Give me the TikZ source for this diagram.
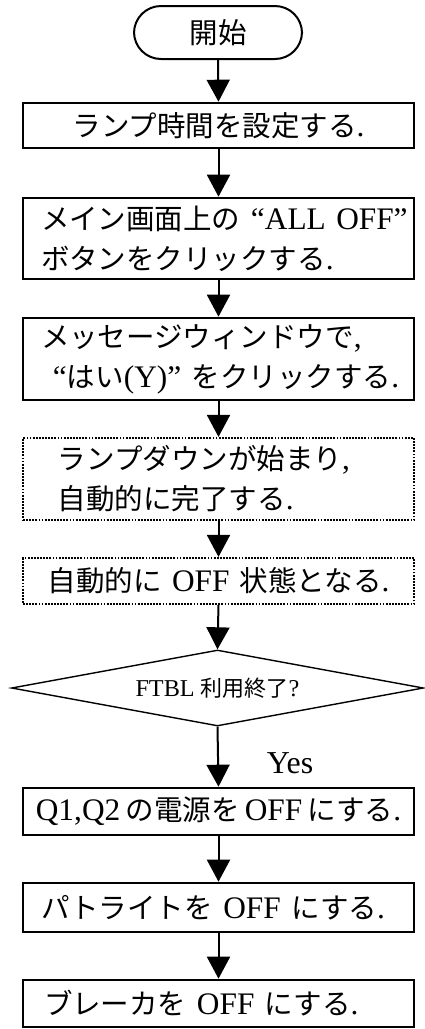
\documentclass[tikz,border=0pt]{standalone}
\usepackage{fontspec}
\setmainfont[Scale=1.1]{Liberation Serif}
\newfontfamily\jp{Noto Sans CJK JP}
\usetikzlibrary{arrows.meta,shapes.geometric}
\newcommand\J[1]{{\jp #1}}
\newcommand\ind[1]{\hspace*{#1pt}}
\tikzset{
  base/.style={font=\fontsize{28.5}{40}\selectfont, inner ysep=0pt},
  pbox/.style={base, draw, line width=2.6pt, minimum width=391pt, inner xsep=0pt, text width=391pt, align=left},
  dbox/.style={pbox, line width=2.2pt, dash pattern=on 1.8pt off 1.3pt},
  term/.style={base, draw, line width=2pt, rounded corners=27pt, minimum width=168pt, minimum height=53pt},
  dec/.style={font=\fontsize{22}{26}\selectfont, draw, line width=1.4pt, shape=diamond, shape aspect=5.4, minimum width=412pt, minimum height=76pt, inner sep=0pt},
  arr/.style={line width=2pt, -{Triangle[width=23pt,length=22pt]}},
  lab/.style={font=\fontsize{29}{34}\selectfont}
}
\begin{document}
\begin{tikzpicture}[x=1pt,y=-1pt]
\useasboundingbox (0,0) rectangle (425,1029);
\node[term] (start) at (218,32.5) {\J{開始}};
\node[pbox, align=center, minimum height=45pt] (b1) at (218.5,125.5) {\J{ランプ時間を設定する}.};
\node[pbox, minimum height=81pt] (b2) at (218.5,238.5) {\ind{18}\J{メイン画面上の}~“ALL OFF”\\\ind{18}\J{ボタンをクリックする}.};
\node[pbox, minimum height=82pt] (b3) at (218.5,359) {\ind{18}\J{メッセージウィンドウで},\\\ind{30}“\J{はい}(Y)”~\J{をクリックする}.};
\node[dbox, minimum height=82pt] (b4) at (218.5,479) {\ind{35}\J{ランプダウンが始まり},\\\ind{35}\J{自動的に完了する}.};
\node[dbox, align=center, minimum height=46pt] (b5) at (218.5,581) {\J{自動的に} OFF \J{状態となる}.};
\node[dec] (d) at (217.5,688) {FTBL \J{利用終了}?};
\node[pbox, align=center, minimum height=47pt] (b6) at (218.5,811.5) {Q1,Q2\,\J{の電源を}\,OFF\,\J{にする}.};
\node[pbox, minimum height=49pt] (b7) at (218.5,907.5) {\ind{18}\J{パトライトを} OFF \J{にする}.};
\node[pbox, minimum height=47pt] (b8) at (218.5,1003.5) {\ind{21}\J{ブレーカを} OFF \J{にする}.};
\node[lab] (yes) at (290,763) {Yes};
\draw[arr] (start.south) -- (b1.north);
\draw[arr] (b1.south) -- (b2.north);
\draw[arr] (b2.south) -- (b3.north);
\draw[arr] (b3.south) -- (b4.north);
\draw[arr] (b4.south) -- (b5.north);
\draw[arr] (b5.south) -- (d.north);
\draw[arr] (d.south) -- (b6.north);
\draw[arr] (b6.south) -- (b7.north);
\draw[arr] (b7.south) -- (b8.north);
\end{tikzpicture}
\end{document}
